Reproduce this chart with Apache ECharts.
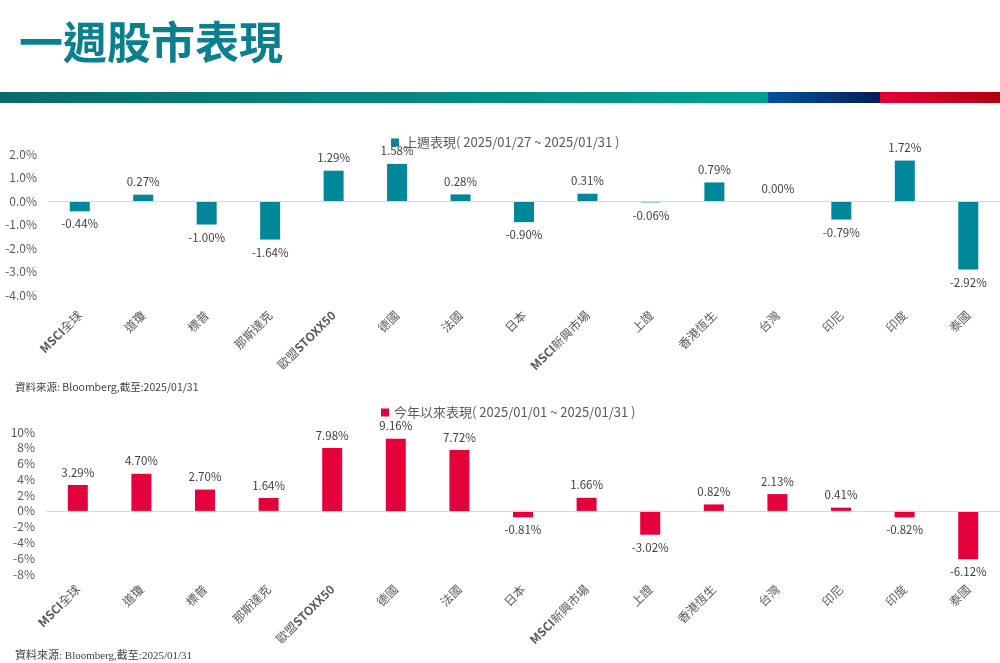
<!DOCTYPE html>
<html><head><meta charset="utf-8">
<script src="https://cdn.jsdelivr.net/npm/echarts@6/dist/echarts.min.js"></script>
<style>html,body{margin:0;padding:0;background:#fff}#c{width:1000px;height:663px}</style>
</head><body><div id="c"></div>
<script>
const categories = ['MSCI全球','道瓊','標普','那斯達克','歐盟STOXX50','德國','法國','日本','MSCI新興市場','上證','香港恆生','台灣','印尼','印度','泰國'];
const weekName = '上週表現( 2025/01/27 ~ 2025/01/31 )';
const weekValues = [-0.44, 0.27, -1.00, -1.64, 1.29, 1.58, 0.28, -0.90, 0.31, -0.06, 0.79, 0.00, -0.79, 1.72, -2.92];
const ytdName = '今年以來表現( 2025/01/01 ~ 2025/01/31 )';
const ytdValues = [3.29, 4.70, 2.70, 1.64, 7.98, 9.16, 7.72, -0.81, 1.66, -3.02, 0.82, 2.13, 0.41, -0.82, -6.12];
const titleText = '一週股市表現';
const sourceText = '資料來源: Bloomberg,截至:2025/01/31';

const FONT = '"Noto Sans CJK TC","Noto Sans",sans-serif';
const chart = echarts.init(document.getElementById('c'), null, {renderer:'canvas'});

function items(vals){
  return vals.map(v => ({value:v, label:{position: v < 0 ? 'bottom' : 'top'}}));
}
function catFmt(s){ return s.replace(/[A-Za-z0-9]+/g, m => '{b|' + m + '}'); }
function xLabel(margin){
  return {
    interval:0, rotate:45, margin:margin, color:'#595959', fontSize:12, fontFamily:FONT,
    formatter: catFmt,
    rich:{b:{fontWeight:'bold', color:'#595959', fontSize:12, fontFamily:FONT}}
  };
}

chart.setOption({
  animation:false,
  backgroundColor:'#fff',
  textStyle:{fontFamily:FONT},
  graphic:[
    {type:'text', left:19, top:20, style:{text:titleText, fill:'#0b7f8d', font:'bold 44px "Noto Sans CJK TC"'}},
    {type:'rect', shape:{x:0,y:92,width:768,height:11}, style:{fill:new echarts.graphic.LinearGradient(0,0,1,0,[{offset:0,color:'#0a6b6a'},{offset:0.45,color:'#05857e'},{offset:1,color:'#00a090'}])}},
    {type:'rect', shape:{x:768,y:92,width:112,height:11}, style:{fill:new echarts.graphic.LinearGradient(0,0,1,0,[{offset:0,color:'#0052a2'},{offset:1,color:'#001d58'}])}},
    {type:'rect', shape:{x:880,y:92,width:120,height:11}, style:{fill:new echarts.graphic.LinearGradient(0,0,1,0,[{offset:0,color:'#e4003a'},{offset:1,color:'#b0000c'}])}},
    {type:'text', left:15, top:382, style:{text:sourceText, fill:'#404040', font:'10.5px "Noto Sans CJK TC"'}},
    {type:'text', left:15, top:651, style:{text:sourceText, fill:'#404040', font:'11px "Liberation Serif","Noto Sans CJK TC",serif'}}
  ],
  legend:[
    {data:[weekName], left:386, top:131, icon:'rect', itemWidth:8, itemHeight:8, itemGap:4,
     textStyle:{color:'#595959', fontSize:13, fontFamily:FONT}, selectedMode:false},
    {data:[ytdName], left:376, top:401, icon:'rect', itemWidth:8, itemHeight:8, itemGap:4,
     textStyle:{color:'#595959', fontSize:13, fontFamily:FONT}, selectedMode:false}
  ],
  grid:[
    {left:48, top:154, width:952, height:141},
    {left:46, top:432, width:958, height:142}
  ],
  xAxis:[
    {type:'category', gridIndex:0, data:categories, axisLine:{show:false, onZero:false}, axisTick:{show:false}, axisLabel:xLabel(18)},
    {type:'category', gridIndex:1, data:categories, axisLine:{show:false, onZero:false}, axisTick:{show:false}, axisLabel:xLabel(13)}
  ],
  yAxis:[
    {type:'value', gridIndex:0, min:-4, max:2, interval:1, splitLine:{show:false},
     axisLabel:{margin:11, color:'#595959', fontSize:12, fontFamily:FONT, formatter:v => v.toFixed(1) + '%'}},
    {type:'value', gridIndex:1, min:-8, max:10, interval:2, splitLine:{show:false},
     axisLabel:{margin:11, color:'#595959', fontSize:12, fontFamily:FONT, formatter:v => v.toFixed(0) + '%'}}
  ],
  series:[
    {name:weekName, type:'bar', xAxisIndex:0, yAxisIndex:0, data:items(weekValues), barWidth:20,
     itemStyle:{color:'#00879a'},
     label:{show:true, distance:7, color:'#404040', fontSize:11.5, fontFamily:FONT, formatter:p => p.value.toFixed(2) + '%'},
     markLine:{silent:true, symbol:'none', label:{show:false}, lineStyle:{color:'#d9d9d9', type:'solid', width:1}, data:[{yAxis:0}]}},
    {name:ytdName, type:'bar', xAxisIndex:1, yAxisIndex:1, data:items(ytdValues), barWidth:20,
     itemStyle:{color:'#e4003a'},
     label:{show:true, distance:7, color:'#404040', fontSize:11.5, fontFamily:FONT, formatter:p => p.value.toFixed(2) + '%'},
     markLine:{silent:true, symbol:'none', label:{show:false}, lineStyle:{color:'#d9d9d9', type:'solid', width:1}, data:[{yAxis:0}]}}
  ]
});
</script></body></html>
